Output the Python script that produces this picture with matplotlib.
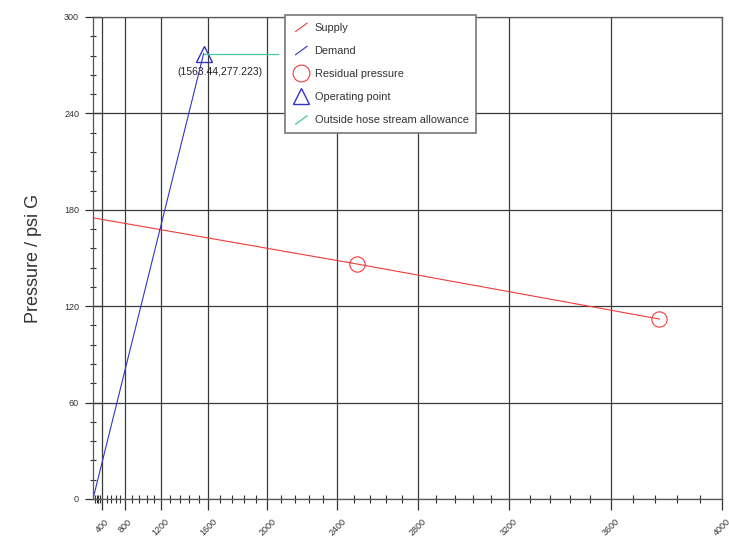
import numpy as np
import matplotlib
matplotlib.use("Agg")
import matplotlib.pyplot as plt
from matplotlib.lines import Line2D
from matplotlib.legend_handler import HandlerBase
from matplotlib.ticker import FixedLocator, MultipleLocator

plt.rcParams["font.family"] = ["Liberation Sans", "DejaVu Sans"]

# data
supply_q = [0, 2500, 3780]
supply_p = [175.0, 146.3, 112.0]
residual_q = [2500, 3780]
residual_p = [146.3, 112.0]
demand_q = [0, 1563.44]
demand_p = [0, 277.223]
op_q = 1563.44
op_p = 277.223
hose_allowance = 500
x_ticks = [400, 800, 1200, 1600, 2000, 2400, 2800, 3200, 3600, 4000]
y_ticks = [0, 60, 120, 180, 240, 300]

EXP = 1.85


def fwd(q):
    q = np.asarray(q, dtype=float)
    return np.sign(q) * np.abs(q) ** EXP


def inv(t):
    t = np.asarray(t, dtype=float)
    return np.sign(t) * np.abs(t) ** (1 / EXP)


class DiagHandler(HandlerBase):
    """legend handle drawn as a short diagonal stroke"""

    def create_artists(self, legend, orig, xd, yd, w, h, fontsize, trans):
        x0, x1 = -xd + 0.15 * w, -xd + 0.85 * w
        y0, y1 = -yd - 0.1 * h, -yd + 1.0 * h
        ln = Line2D([x0, x1], [y0, y1], color=orig.get_color(),
                    lw=orig.get_linewidth(), transform=trans)
        return [ln]


fig = plt.figure(figsize=(7.29, 5.46), dpi=100)
ax = fig.add_axes([93 / 729, 1 - 499 / 546, 629 / 729, 482 / 546])
ax.set_xscale("function", functions=(fwd, inv))
ax.set_xlim(0, 4000)
ax.set_ylim(0, 300)

red = "#f03c3c"
blue = "#3434c4"
teal = "#46c8a6"

sup, = ax.plot(supply_q, supply_p, color=red, lw=0.8, label="Supply")
dem, = ax.plot(demand_q, demand_p, color=blue, lw=0.8, label="Demand")
res, = ax.plot(residual_q, residual_p, ls="none", marker="o", ms=11,
               mfc="none", mec=red, mew=0.8, label="Residual pressure")
opp, = ax.plot([op_q], [op_p], ls="none", marker="^", ms=11,
               mfc="none", mec=blue, mew=1.0, label="Operating point")
hose, = ax.plot([op_q, op_q + hose_allowance], [op_p, op_p], color=teal,
                lw=0.9, label="Outside hose stream allowance")

ax.annotate(f"({op_q:.2f},{op_p:.3f})", (op_q, op_p), xytext=(16, -18),
            textcoords="offset pixels", ha="center", va="center",
            fontsize=7.5, color="#222222")

# ticks
ax.xaxis.set_major_locator(FixedLocator(x_ticks))
edges = fwd([0] + x_ticks)
minor = []
for a, b in zip(edges[:-1], edges[1:]):
    minor.extend(np.linspace(a, b, 6)[1:-1])
ax.xaxis.set_minor_locator(FixedLocator(inv(minor)))
ax.yaxis.set_major_locator(FixedLocator(y_ticks))
ax.yaxis.set_minor_locator(MultipleLocator(12))

ax.set_xticklabels([str(v) for v in x_ticks], rotation=45, ha="center",
                   fontsize=6.5, color="#333333")
ax.set_yticklabels([str(v) for v in y_ticks], fontsize=6.5, color="#333333")
ax.tick_params(axis="x", which="major", direction="out", length=8,
               width=0.9, color="#333333", pad=5)
ax.tick_params(axis="x", which="minor", direction="inout", length=6,
               width=0.8, color="#333333")
ax.tick_params(axis="y", which="major", direction="inout", length=12,
               width=0.9, color="#333333", pad=4)
ax.tick_params(axis="y", which="minor", direction="inout", length=5,
               width=0.8, color="#333333")

ax.grid(True, which="major", color="#3a3a3a", lw=0.9)
ax.set_axisbelow(True)
for s in ax.spines.values():
    s.set_color("#555555")
    s.set_linewidth(0.9)

ax.set_ylabel("Pressure / psi G", fontsize=13, color="#333333", labelpad=16)

leg = ax.legend(handles=[sup, dem, res, opp, hose],
                handler_map={sup: DiagHandler(), dem: DiagHandler(),
                             hose: DiagHandler()},
                loc="upper left", bbox_to_anchor=(0.306, 1.004),
                borderaxespad=0, fancybox=False, framealpha=1,
                edgecolor="#777777", fontsize=7.9, handlelength=1.5,
                handletextpad=0.45, labelspacing=1.2, borderpad=0.7,
                markerscale=1.1)
leg.get_frame().set_linewidth(1.2)
for t in leg.get_texts():
    t.set_color("#333333")

fig.savefig("out.png", dpi=100)
